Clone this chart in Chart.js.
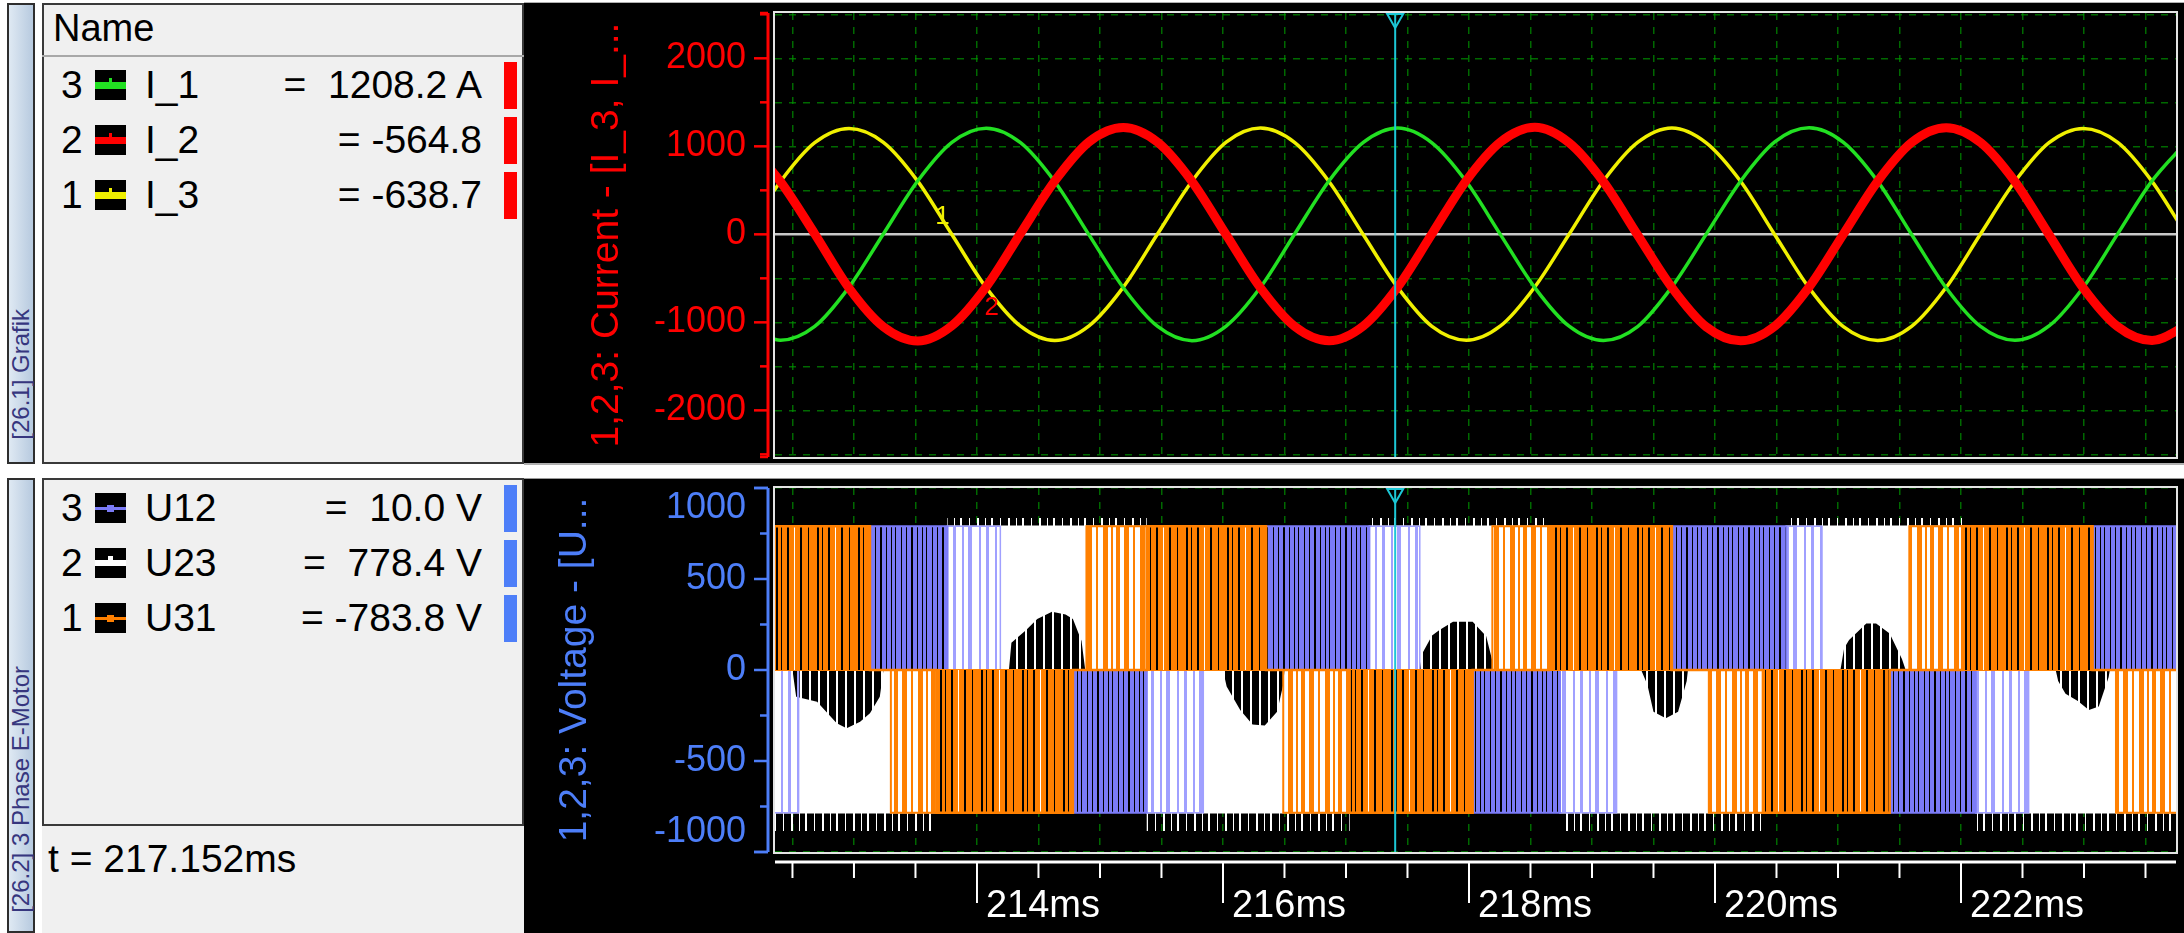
<!DOCTYPE html>
<html>
<head>
<meta charset="utf-8">
<title>3 Phase E-Motor</title>
<script src="https://cdn.jsdelivr.net/npm/chart.js@4.4.1/dist/chart.umd.min.js"></script>
<style>
  body { margin: 0; width: 2184px; height: 933px; position: relative; overflow: hidden; background: #fff;
         font-family: "Liberation Sans", Arial, sans-serif; }
  .box { position: absolute; box-sizing: border-box; }
  .strip { left: 7px; width: 28px; border: 2px solid #2e2e2e; background: linear-gradient(90deg, #dfe9f3, #b7cadf); }
  .vtext { position: absolute; left: 8px; font-size: 24px; line-height: 26px; color: #36367e;
           writing-mode: vertical-rl; transform: rotate(180deg); white-space: nowrap; }
  .panel { left: 42px; width: 482px; background: #f0f0f0; border: 2px solid #3a3a3a; }
  .scope { left: 524px; width: 1660px; background: #000; }
  .txt { position: absolute; font-size: 39px; line-height: 48px; height: 48px; white-space: pre; color: #000; }
  .val { left: 250px; width: 232px; text-align: right; }
  .ico { position: absolute; left: 95px; width: 31px; height: 30px; background: #000; }
  .ico i, .ico b { position: absolute; display: block; }
  .bar { position: absolute; left: 504px; width: 13px; height: 47px; }
  canvas { position: absolute; }
</style>
</head>
<body>
<div class="box strip" style="top:3px;height:461px"></div>
<div class="vtext" style="bottom:493px">[26.1] Grafik</div>
<div class="box strip" style="top:478px;height:455px"></div>
<div class="vtext" style="bottom:20px">[26.2] 3 Phase E-Motor</div>

<div class="box panel" style="top:3px;height:461px"></div>
<div class="txt" style="left:53px;top:4px;font-size:38px">Name</div>
<div class="box" style="left:42px;top:55px;width:482px;height:2px;background:#a8a8a8"></div>

<div class="box panel" style="top:478px;height:348px"></div>
<div class="box" style="left:42px;top:826px;width:482px;height:107px;background:#f0f0f0"></div>
<div class="txt" style="left:48px;top:835px">t = 217.152ms</div>

<div class="box scope" style="top:2px;height:463px;border-top:1px solid #b0b0b0;border-bottom:2px solid #b0b0b0"></div>
<div class="box scope" style="top:478px;height:455px;border-top:1px solid #9a9a9a"></div>

<div id="legend"></div>
<canvas id="cur" width="1660" height="460" style="left:524px;top:4px;width:1660px;height:460px"></canvas>
<canvas id="volt" width="1660" height="454" style="left:524px;top:479px;width:1660px;height:454px"></canvas>

<script>
// ---------- data ----------

// time axis (ms)
const tMin = 212.358;
const tMax = 223.748;
const cursorT = 217.40;

// phase currents, sampled every ~0.279 ms (A)
const tCur = [212.124, 212.403, 212.681, 212.960, 213.239, 213.518, 213.796, 214.075, 214.354, 214.633, 214.911,
  215.190, 215.469, 215.748, 216.026, 216.305, 216.584, 216.863, 217.141, 217.420, 217.699, 217.978,
  218.256, 218.535, 218.814, 219.093, 219.371, 219.650, 219.929, 220.208, 220.486, 220.765, 221.044,
  221.323, 221.601, 221.880, 222.159, 222.438, 222.716, 222.995, 223.274, 223.553, 223.831];
const iL1 = [-1040, -1203, -1046, -600, 4, 606, 1045, 1206, 1041, 598, -6, -607,
  -1047, -1208, -1042, -602, 7, 609, 1044, 1208, 1040, 600, -3, -605,
  -1044, -1206, -1048, -597, 2, 604, 1050, 1210, 1045, 602, -7, -609,
  -1046, -1204, -1041, -601, 5, 607, 1046];
const iL2 = [1048, 598, 6, -611, -1050, -1212, -1039, -596, 10, 607, 1051, 1214,
  1046, 601, -4, -608, -1047, -1209, -1041, -600, 5, 611, 1049, 1216,
  1040, 597, -8, -606, -1052, -1210, -1044, -599, 3, 604, 1046, 1211,
  1043, 600, -5, -612, -1049, -1207, -1040];
const iL3 = [3, 601, 1041, 1203, 1046, 605, -2, -606, -1044, -1207, -1040, -600,
  6, 604, 1047, 1207, 1042, 598, -5, -603, -1046, -1203, -1041, -598,
  1, 606, 1044, 1209, 1040, 603, -4, -608, -1049, -1206, -1043, -602,
  4, 600, 1042, 1204, 1045, 602, -3];
const curRange = [-2530, 2515];
const curTicks = [-2500, -2000, -1500, -1000, -500, 0, 500, 1000, 1500, 2000, 2500];

// line voltages: PWM blocks, level held from each time until the next (V)
const u31DenseT = [212.30, 213.13, 213.67, 214.78, 215.38, 216.35, 217.03, 218.03, 218.65, 219.65, 220.39, 221.42, 222.01, 223.07, 223.80];
const u31DenseV = [790, 0, -785, 0, 790, 0, -785, 0, 790, 0, -785, 0, 790, 0, 0];
const u31MixT = [212.30, 213.30, 213.67, 214.89, 215.38, 216.49, 217.03, 218.19, 218.65, 219.95, 220.39, 221.58, 222.01, 223.26, 223.80];
const u31MixV = [0, -785, 0, 790, 0, -785, 0, 790, 0, -785, 0, 790, 0, -785, -785];
const u12DenseT = [212.30, 213.13, 213.76, 214.78, 215.38, 216.35, 217.19, 218.03, 218.74, 219.65, 220.58, 221.42, 222.12, 223.07, 223.80];
const u12DenseV = [0, 790, 0, -785, 0, 790, 0, -785, 0, 790, 0, -785, 0, 790, 790];
const u12MixT = [212.30, 212.55, 213.76, 214.19, 215.38, 215.84, 217.19, 217.60, 218.74, 219.20, 220.58, 220.87, 222.12, 222.55, 223.80];
const u12MixV = [-785, 0, 790, 0, -785, 0, 790, 0, -785, 0, 790, 0, -785, 0, 0];
const u23T = [212.30, 213.67, 213.76, 215.38, 217.03, 217.19, 218.65, 218.74, 220.39, 220.58, 222.01, 222.12, 223.80];
const u23V = [-785, 0, 790, -785, 0, 790, 0, -785, 0, 790, 0, -785, -785];
const u23PeakV = [-885, 0, 835, -885, 0, 835, 0, -885, 0, 835, 0, -885, -885];
// sparse U23 pulses near zero (dark humps)
const humpT = [212.30, 212.50, 212.53, 212.70, 212.86, 212.94, 213.05, 213.13, 213.21, 213.24,
  214.26, 214.28, 214.40, 214.49, 214.61, 214.72, 214.78, 214.85, 214.88,
  216.00, 216.03, 216.14, 216.24, 216.34, 216.44, 216.49, 216.50,
  217.60, 217.62, 217.70, 217.76, 217.87, 218.03, 218.14, 218.19, 218.20,
  219.40, 219.45, 219.50, 219.60, 219.70, 219.77, 219.78,
  221.02, 221.05, 221.09, 221.23, 221.31, 221.42, 221.52, 221.55,
  222.77, 222.79, 222.85, 222.95, 223.04, 223.12, 223.20, 223.21, 223.80];
const humpV = [0, 0, -147, -175, -293, -320, -284, -238, -147, 0,
  0, 150, 220, 280, 320, 305, 280, 160, 0,
  0, -90, -220, -300, -305, -230, -80, 0,
  0, 90, 190, 220, 265, 265, 185, 50, 0,
  0, -80, -230, -265, -230, -60, 0,
  0, 120, 165, 256, 256, 200, 60, 0,
  0, -60, -130, -170, -220, -200, -40, 0, 0];
const voltRange = [-1000, 1000];

// legend readouts at the cursor
const curIdx = ['3', '2', '1'];
const curNames = ['I_1', 'I_2', 'I_3'];
const curReadout = ['=  1208.2 A', '= -564.8', '= -638.7'];
const voltIdx = ['3', '2', '1'];
const voltNames = ['U12', 'U23', 'U31'];
const voltReadout = ['=  10.0 V', '=  778.4 V', '= -783.8 V'];

// ---------- colours ----------
const GREEN = '#22e022', RED = '#ff0000', YELLOW = '#f0f000';
const BLUE = '#7b7bf7', LAVENDER = '#a0a0ff', ORANGE = '#ff8000', WHITE = '#ffffff';
const AXIS_BLUE = '#4d7ef8';
const GRID = 'rgba(0,150,0,0.7)';

// ---------- legend panels ----------
function legendRows(idx, names, readouts, centers, icons, barColor) {
  let html = '';
  centers.forEach((c, i) => {
    html += `<div class="txt" style="left:61px;top:${c - 24}px">${idx[i]}</div>
      <div class="ico" style="top:${c - 15}px">${icons[i]}</div>
      <div class="txt" style="left:145px;top:${c - 24}px">${names[i]}</div>
      <div class="txt val" style="top:${c - 24}px">${readouts[i]}</div>
      <div class="bar" style="top:${Math.round(c - 23.5)}px;background:${barColor}"></div>`;
  });
  return html;
}
const thick = col => `<i style="top:12px;height:7px;width:31px;background:${col}"></i><b style="left:14px;top:8px;width:3px;height:5px;background:${col}"></b>`;
const thin = (col, h) => `<i style="top:${15 - h / 2}px;height:${h}px;width:31px;background:${col}"></i><b style="left:12px;top:12px;width:7px;height:7px;background:${col}"></b>`;

document.getElementById('legend').innerHTML =
  legendRows(curIdx, curNames, curReadout, [85, 140, 195], [thick(GREEN), thick(RED), thick(YELLOW)], RED) +
  legendRows(voltIdx, voltNames, voltReadout, [508, 563, 618],
    [thin(BLUE, 3), `<i style="top:12px;height:6px;width:31px;background:#fff"></i><b style="left:13px;top:8px;width:5px;height:5px;background:#fff"></b>`, thin(ORANGE, 3)],
    AXIS_BLUE);

// ---------- helpers ----------
Chart.defaults.font.family = '"Liberation Sans", Arial, sans-serif';

const pts = (xs, ys) => xs.map((x, i) => ({x: x, y: ys[i]}));

// vertical stripe texture used to mimic dense PWM switching
function stripes(ctx, width, bg, bands) {
  const c = document.createElement('canvas');
  c.width = width; c.height = 8;
  const g = c.getContext('2d');
  if (bg) { g.fillStyle = bg; g.fillRect(0, 0, width, 8); }
  bands.forEach(([x0, x1, col]) => { g.fillStyle = col; g.fillRect(x0, 0, x1 - x0, 8); });
  return ctx.createPattern(c, 'repeat');
}

const isMultiple = (v, m) => Math.abs(v / m - Math.round(v / m)) < 1e-6;

// axis line, minor ticks, frame, cursor, time bar
const scopeDecor = {
  id: 'scopeDecor',
  beforeDatasetsDraw(chart) {
    const {ctx, chartArea: a, scales: {y}} = chart;
    const py = y.getPixelForValue(0);
    ctx.save();
    ctx.strokeStyle = '#c8c8c8';
    ctx.lineWidth = 2.5;
    ctx.beginPath(); ctx.moveTo(a.left, py); ctx.lineTo(a.right, py); ctx.stroke();
    ctx.restore();
  },
  afterDatasetsDraw(chart, args, o) {
    const {ctx, chartArea: a, scales: {x, y}} = chart;
    ctx.save();
    ctx.strokeStyle = '#e4e4e4';
    ctx.lineWidth = 2;
    ctx.strokeRect(a.left - 1, a.top - 1, a.right - a.left + 2, a.bottom - a.top + 2);

    const ax = a.left - 7;
    ctx.strokeStyle = o.axisColor;
    ctx.lineWidth = 3;
    ctx.beginPath(); ctx.moveTo(ax, a.top); ctx.lineTo(ax, a.bottom); ctx.stroke();
    ctx.lineWidth = 2.5;
    y.ticks.map(t => t.value).concat([y.min, y.max]).forEach(v => {
      const py = y.getPixelForValue(v);
      const len = isMultiple(v, o.yMajor) ? 14 : 8;
      ctx.beginPath(); ctx.moveTo(ax - len, py); ctx.lineTo(ax, py); ctx.stroke();
    });

    if (o.timeBar) {
      const by = a.bottom + 10;
      ctx.strokeStyle = WHITE;
      ctx.lineWidth = 3;
      ctx.beginPath(); ctx.moveTo(a.left, by); ctx.lineTo(a.right, by); ctx.stroke();
      ctx.lineWidth = 2;
      x.ticks.forEach(t => {
        const px = x.getPixelForValue(t.value);
        const len = isMultiple(t.value, 2) ? 41 : 16;
        ctx.beginPath(); ctx.moveTo(px, by); ctx.lineTo(px, by + len); ctx.stroke();
      });
    }

    (o.notes || []).forEach(n => {
      ctx.fillStyle = n.color;
      ctx.font = '26px "Liberation Sans", Arial, sans-serif';
      ctx.textAlign = 'center';
      ctx.textBaseline = 'middle';
      ctx.fillText(n.text, x.getPixelForValue(n.t), y.getPixelForValue(n.v));
    });

    const cx = x.getPixelForValue(o.cursorT);
    ctx.strokeStyle = '#1cc7d6';
    ctx.lineWidth = 2;
    ctx.beginPath(); ctx.moveTo(cx, a.top); ctx.lineTo(cx, a.bottom); ctx.stroke();
    ctx.beginPath();
    ctx.moveTo(cx - 8, a.top + 1); ctx.lineTo(cx + 8, a.top + 1); ctx.lineTo(cx, a.top + 15);
    ctx.closePath(); ctx.stroke();
    ctx.restore();
  }
};

const zeroPadding = s => { s.paddingTop = 0; s.paddingBottom = 0; s.paddingLeft = 0; s.paddingRight = 0; };

// ---------- top: phase currents ----------
new Chart(document.getElementById('cur'), {
  type: 'line',
  data: {
    datasets: [
      {label: 'I_2', data: pts(tCur, iL2), borderColor: RED, borderWidth: 9},
      {label: 'I_1', data: pts(tCur, iL1), borderColor: GREEN, borderWidth: 3.5},
      {label: 'I_3', data: pts(tCur, iL3), borderColor: YELLOW, borderWidth: 3.5}
    ]
  },
  options: {
    responsive: false,
    devicePixelRatio: 1,
    animation: false,
    layout: {padding: {top: 9, right: 8, bottom: 7, left: 0}},
    elements: {point: {radius: 0}, line: {cubicInterpolationMode: 'monotone', fill: false}},
    plugins: {
      legend: {display: false},
      tooltip: {enabled: false},
      scopeDecor: {
        axisColor: RED, yMajor: 1000, cursorT: cursorT, timeBar: false,
        notes: [{t: 213.72, v: 200, text: '1', color: YELLOW}, {t: 214.12, v: -840, text: '2', color: RED}]
      }
    },
    scales: {
      x: {
        type: 'linear', min: tMin, max: tMax,
        ticks: {display: false, stepSize: 0.5, includeBounds: false},
        grid: {color: GRID, lineWidth: 1.5, drawTicks: false},
        border: {display: false, dash: [7, 7]},
        afterFit: s => { s.height = 0; zeroPadding(s); }
      },
      y: {
        min: curRange[0], max: curRange[1],
        afterBuildTicks: s => { s.ticks = curTicks.map(v => ({value: v})); },
        ticks: {
          autoSkip: false, color: RED, padding: 29, font: {size: 36},
          callback: v => isMultiple(v, 1000) ? String(v) : ''
        },
        grid: {color: c => (c.tick && c.tick.value === 0) ? 'rgba(0,0,0,0)' : GRID, lineWidth: 1.5, drawTicks: false},
        border: {display: false, dash: [7, 7]},
        title: {display: true, text: '1,2,3: Current - [I_3, I_...', color: RED, font: {size: 39}, padding: {top: 60, bottom: 0}},
        afterFit: s => { s.width = 251; zeroPadding(s); }
      }
    }
  },
  plugins: [scopeDecor]
});

// ---------- bottom: line voltages ----------
const vctx = document.getElementById('volt').getContext('2d');
const orangeDense = stripes(vctx, 41, '#000', [[0, 6, ORANGE], [8, 11, ORANGE], [12, 17, ORANGE], [19, 24, ORANGE], [24, 25, WHITE], [25, 30, ORANGE], [32, 38, ORANGE], [39, 41, ORANGE]]);
const orangeMix = stripes(vctx, 37, null, [[0, 4, ORANGE], [8, 13, ORANGE], [17, 19, ORANGE], [24, 29, ORANGE], [32, 34, ORANGE]]);
const blueDense = stripes(vctx, 31, '#000', [[0, 5, BLUE], [6, 10, BLUE], [11, 15, BLUE], [17, 21, BLUE], [22, 26, BLUE], [27, 30, BLUE]]);
const blueMix = stripes(vctx, 33, null, [[0, 3, LAVENDER], [9, 11, LAVENDER], [15, 19, LAVENDER], [26, 28, LAVENDER]]);
const humpFill = stripes(vctx, 9, '#000', [[6, 8, WHITE]]);
const peakFill = stripes(vctx, 31, null, [[2, 4, WHITE], [11, 12, WHITE], [19, 21, WHITE], [27, 28, WHITE]]);

const block = (label, xs, ys, line, fillStyle, width) => ({
  label: label, data: pts(xs, ys), stepped: true, fill: 'origin',
  borderColor: line, borderWidth: width, backgroundColor: fillStyle
});

new Chart(vctx, {
  type: 'line',
  data: {
    datasets: [
      block('U31', u31DenseT, u31DenseV, ORANGE, orangeDense, 2.5),
      block('U31 mixed', u31MixT, u31MixV, ORANGE, orangeMix, 2),
      block('U12', u12DenseT, u12DenseV, BLUE, blueDense, 2),
      block('U12 mixed', u12MixT, u12MixV, LAVENDER, blueMix, 1.5),
      {label: 'U23 sparse', data: pts(humpT, humpV), fill: 'origin', borderWidth: 0, borderColor: 'rgba(0,0,0,0)', backgroundColor: humpFill, tension: 0},
      block('U23', u23T, u23V, WHITE, WHITE, 1.5),
      block('U23 peaks', u23T, u23PeakV, 'rgba(0,0,0,0)', peakFill, 0)
    ]
  },
  options: {
    responsive: false,
    devicePixelRatio: 1,
    animation: false,
    layout: {padding: {top: 9, right: 8, bottom: 0, left: 0}},
    elements: {point: {radius: 0}},
    plugins: {
      legend: {display: false},
      tooltip: {enabled: false},
      scopeDecor: {axisColor: AXIS_BLUE, yMajor: 500, cursorT: cursorT, timeBar: true}
    },
    scales: {
      x: {
        type: 'linear', min: tMin, max: tMax,
        ticks: {
          stepSize: 0.5, includeBounds: false, autoSkip: false, maxRotation: 0, minRotation: 0,
          align: 'start', labelOffset: 9, padding: 32, color: WHITE, font: {size: 38},
          callback: v => isMultiple(v, 2) ? Math.round(v) + 'ms' : ''
        },
        grid: {color: GRID, lineWidth: 1.5, drawTicks: false},
        border: {display: false, dash: [7, 7]},
        afterFit: s => { s.height = 81; zeroPadding(s); }
      },
      y: {
        min: voltRange[0], max: voltRange[1],
        ticks: {
          stepSize: 250, autoSkip: false, color: AXIS_BLUE, padding: 29, font: {size: 36, lineHeight: 1.1},
          callback: v => {
            if (v === voltRange[1]) return ['', String(v)];
            if (v === voltRange[0]) return [String(v), ''];
            return isMultiple(v, 500) ? String(v) : '';
          }
        },
        grid: {color: GRID, lineWidth: 1.5, drawTicks: false},
        border: {display: false, dash: [7, 7]},
        title: {display: true, text: '1,2,3: Voltage - [U...', color: AXIS_BLUE, font: {size: 39}, padding: {top: 28, bottom: 0}},
        afterFit: s => { s.width = 251; zeroPadding(s); }
      }
    }
  },
  plugins: [scopeDecor]
});
</script>
</body>
</html>
